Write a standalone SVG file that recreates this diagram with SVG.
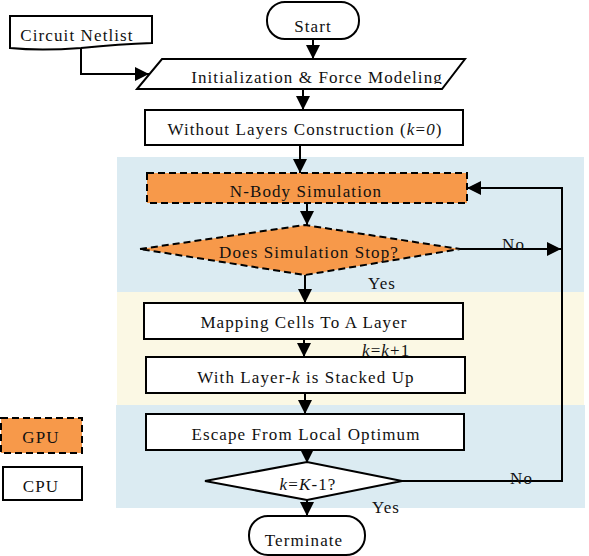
<svg xmlns="http://www.w3.org/2000/svg" width="589" height="556" viewBox="0 0 589 556">
<style>
text{font-family:"Liberation Serif","Times New Roman",serif;font-size:17px;letter-spacing:1.1px;fill:#111}
.c{text-anchor:middle}
.box{fill:#fff;stroke:#000;stroke-width:2}
.gpu{fill:#f7994a;stroke:#000;stroke-width:2;stroke-dasharray:7,4}
.ln{fill:none;stroke:#000;stroke-width:2;marker-end:url(#ah)}
.ln2{fill:none;stroke:#000;stroke-width:2}
</style>
<defs>
<marker id="ah" markerUnits="userSpaceOnUse" markerWidth="14" markerHeight="14" viewBox="0 0 12 12" refX="12" refY="6" orient="auto">
<path d="M0,0 L12,6 L0,12 z" fill="#000"/>
</marker>
<clipPath id="initclip"><rect x="130" y="59" width="340" height="25"/></clipPath>
</defs>
<rect width="589" height="556" fill="#fff"/>
<g id="regions">
<rect x="117" y="157" width="467" height="135" fill="#dbebf2"/>
<rect x="117" y="292" width="467" height="113" fill="#fbf8e4"/>
<rect x="116" y="405" width="469" height="103" fill="#dbebf2"/>
</g>
<g id="connectors">
<path class="ln" d="M313,39 V59"/>
<path class="ln" d="M81,48 V74 H149"/>
<path class="ln" d="M303,89 V110"/>
<path class="ln" d="M300,145 V173"/>
<path class="ln" d="M307,203 V225"/>
<path class="ln" d="M305,275 V303"/>
<path class="ln" d="M304,339 V357"/>
<path class="ln" d="M305,393 V414"/>
<path class="ln" d="M307,450 V463"/>
<path class="ln" d="M307,500 V516"/>
<path class="ln" d="M460,249 H561"/>
<path class="ln" d="M402,481 H562 V188 H467"/>
</g>
<g id="start">
<rect class="box" x="267" y="2" width="92" height="37" rx="18"/>
<text class="c" x="313" y="32">Start</text>
</g>
<g id="netlist">
<path class="box" d="M10,16 H152 V43 Q120,44 81,48 Q40,51 10,48 Z"/>
<text class="c" x="77" y="41">Circuit Netlist</text>
</g>
<g id="init">
<polygon class="box" points="162,59 465,59 442,89 137,89"/>
<text class="c" x="317" y="83" clip-path="url(#initclip)">Initialization &amp; Force Modeling</text>
</g>
<g id="without">
<rect class="box" x="145" y="110" width="318" height="35"/>
<text class="c" x="305" y="135">Without Layers Construction (<tspan font-style="italic">k</tspan>=<tspan font-style="italic">0</tspan>)</text>
</g>
<g id="nbody">
<rect class="gpu" x="147" y="173" width="320" height="30"/>
<text class="c" x="306" y="197">N-Body Simulation</text>
</g>
<g id="stop">
<polygon class="gpu" points="140,249 305,225 460,249 305,275"/>
<text class="c" x="309" y="258">Does Simulation Stop?</text>
<text x="502" y="250">No</text>
<text x="368" y="289">Yes</text>
</g>
<g id="mapping">
<rect class="box" x="144" y="303" width="319" height="36"/>
<text class="c" x="304" y="328">Mapping Cells To A Layer</text>
<text x="362" y="356"><tspan font-style="italic">k</tspan>=<tspan font-style="italic">k</tspan>+1</text>
</g>
<g id="stacked">
<rect class="box" x="146" y="357" width="319" height="36"/>
<text class="c" x="306" y="383">With Layer-<tspan font-style="italic">k</tspan> is Stacked Up</text>
</g>
<g id="escape">
<rect class="box" x="146" y="414" width="318" height="36"/>
<text class="c" x="306" y="440">Escape From Local Optimum</text>
</g>
<g id="kcheck">
<polygon class="box" points="205,481 307,462 402,481 307,500"/>
<text class="c" x="308" y="490"><tspan font-style="italic">k</tspan>=<tspan font-style="italic">K</tspan>-1?</text>
<text x="510" y="484">No</text>
<text x="372" y="513">Yes</text>
</g>
<g id="terminate">
<rect class="box" x="249" y="516" width="116" height="39" rx="19"/>
<text class="c" x="304" y="546">Terminate</text>
</g>
<g id="legend-gpu">
<rect class="gpu" x="1" y="418" width="81" height="35"/>
<text class="c" x="41" y="443">GPU</text>
</g>
<g id="legend-cpu">
<rect class="box" x="3" y="467" width="79" height="33"/>
<text class="c" x="41" y="492">CPU</text>
</g>
</svg>
